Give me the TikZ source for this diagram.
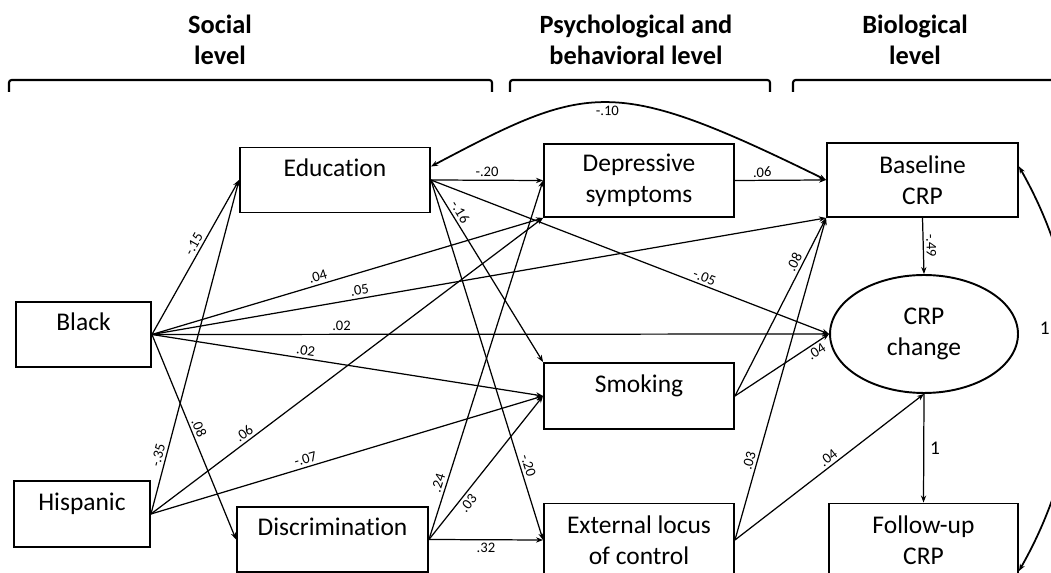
\documentclass[tikz,border=0pt]{standalone}
\usepackage{fontspec}
\setmainfont{Carlito}[Ligatures=NoCommon]
\usetikzlibrary{arrows.meta, shapes.geometric}

\begin{document}
\begin{tikzpicture}[x=0.02cm, y=-0.02cm,
	box/.style={draw, line width=1.1pt, align=center, inner sep=0pt, font=\fontsize{14.5}{17.5}\selectfont},
	oneline/.style={text height=10pt, text depth=14pt},
	lvl/.style={align=center, font=\fontsize{15}{18}\selectfont\bfseries},
	arr/.style={-{Stealth[length=4pt, width=3pt]}, line width=0.7pt},
	twoway/.style={{Stealth[length=4pt, width=3pt]}-{Stealth[length=4pt, width=3pt]}, line width=1pt},
	coef/.style={font=\fontsize{8.3}{9}\selectfont, inner sep=1.5pt, sloped},
	unit/.style={font=\fontsize{11}{12}\selectfont}]
	\useasboundingbox (0,0) rectangle (1051,573);
	\clip (0,0) rectangle (1051,573);
	
	\def\bw{3.8cm}
	\def\bh{1.3cm}
	
	\node[lvl] (soc) at (220,40) {Social\\level};
	\node[lvl] (psy) at (636,40) {Psychological and\\behavioral level};
	\node[lvl] (bio) at (915,40) {Biological\\level};
	
	\draw[line width=1.2pt, rounded corners=1.5pt] (9,92) -- (9,80) -- (492,80) -- (492,92);
	\draw[line width=1.2pt, rounded corners=1.5pt] (510,92) -- (510,80) -- (770,80) -- (770,92);
	\draw[line width=1.2pt, rounded corners=1.5pt] (793,92) -- (793,80) -- (1060,80);
	
	\node[box, oneline, minimum width=2.7cm, minimum height=\bh] (blk) at (83.5,334.5) {Black};
	\node[box, oneline, minimum width=2.72cm, minimum height=1.32cm] (hisp) at (82,514) {Hispanic};
	\node[box, oneline, minimum width=\bw, minimum height=\bh] (edu) at (335,180) {Education};
	\node[box, oneline, minimum width=3.82cm, minimum height=\bh] (disc) at (332.5,539.5) {Discrimination};
	\node[box, minimum width=\bw, minimum height=1.46cm] (dep) at (639,180.5) {Depressive\\symptoms};
	\node[box, oneline, minimum width=\bw, minimum height=1.32cm] (smok) at (639,396) {Smoking};
	\node[box, minimum width=\bw, minimum height=1.46cm] (locus) at (639,540) {External locus\\of control};
	\node[box, minimum width=3.82cm, minimum height=1.48cm] (base) at (922.5,180) {Baseline\\CRP};
	\node[box, ellipse, minimum width=3.76cm, minimum height=2.36cm] (chg) at (924,334) {CRP\\change};
	\node[box, minimum width=3.78cm, minimum height=1.46cm] (fup) at (923.5,540) {Follow-up\\CRP};
	
	\draw[arr] (blk.east) -- node[coef, pos=.56, above] {-.15} (edu.west);
	\draw[arr] (blk.east) -- node[coef, pos=.43, above] {.04} (dep.south west);
	\draw[arr] (blk.east) -- node[coef, pos=.31, above] {.05} (base.south west);
	\draw[arr] (blk.east) -- node[coef, pos=.28, above] {.02} (chg.west);
	\draw[arr] (blk.east) -- node[coef, pos=.39, above] {.02} (smok.west);
	\draw[arr] (blk.east) -- node[coef, pos=.47, above] {.08} (disc.west);
	
	\draw[arr] (hisp.east) -- node[coef, pos=.17, above] {-.35} (edu.west);
	\draw[arr] (hisp.east) -- node[coef, pos=.25, above] {.06} (dep.south west);
	\draw[arr] (hisp.east) -- node[coef, pos=.4, above] {-.07} (smok.west);
	
	\draw[arr] (edu.east) -- node[coef, above] {-.20} (dep.west);
	\draw[arr] (edu.east) -- node[coef, pos=.2, above] {-.16} (smok.north west);
	\draw[arr] (edu.east) -- node[coef, pos=.68, above] {-.05} (chg.west);
	\draw[arr] (edu.east) -- node[coef, pos=.8, above] {-.20} (locus.west);
	
	\draw[arr] (disc.east) -- node[coef, pos=.15, above] {.24} (dep.west);
	\draw[arr] (disc.east) -- node[coef, pos=.29, below] {.03} (smok.west);
	\draw[arr] (disc.east) -- node[coef, below] {.32} (locus.west);
	
	\draw[arr] (dep.east) -- node[coef, pos=.3, above] {.06} (base.west);
	\draw[arr] (smok.east) -- node[coef, pos=.73, above] {.08} (base.south west);
	\draw[arr] (smok.east) -- node[coef, pos=.82, below] {.04} (chg.west);
	\draw[arr] (locus.east) -- node[coef, pos=.24, above] {.03} (base.south west);
	\draw[arr] (locus.east) -- node[coef, pos=.52, above] {.04} (chg.south);
	
	\draw[arr] (base.south) -- node[coef, above] {-.49} (chg.north);
	\draw[arr] (chg.south) -- node[unit, right] {1} (fup.north);
	
	\draw[twoway] (edu.8) .. controls (589,83) and (612,75) .. node[coef, below] {-.10} (base.west);
	\draw[twoway] (base.8) .. controls (1093,297) and (1093,441) .. node[unit, pos=.4, left=9pt] {1} (fup.-18);
\end{tikzpicture}
\end{document}
